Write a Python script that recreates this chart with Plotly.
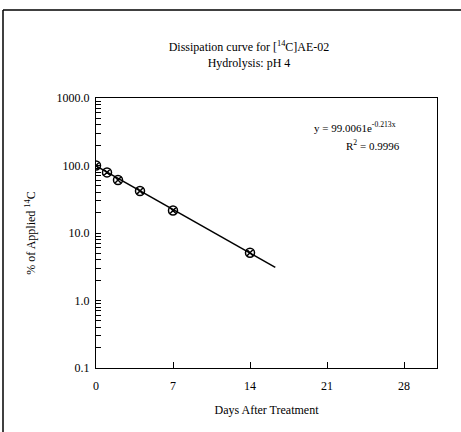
import plotly.graph_objects as go

# Data
days = [0, 1, 2, 4, 7, 14]
pct_applied = [100.0, 79.0, 61.0, 42.0, 21.5, 5.1]

# Trend line endpoints (exponential fit, straight on log axis)
trend_days = [0, 16.3]
trend_pct = [99.0, 3.1]

x_ticks = [0, 7, 14, 21, 28]
decades = [0.1, 1, 10, 100]
decade_labels = ["0.1", "1.0", "10.0", "100.0"]
minor_multipliers = [2, 3, 4, 5, 6, 7, 8, 9]

W, H = 461, 432
L, R, T, B = 96, 24, 98, 64
font_family = "Liberation Serif"

y_tickvals, y_ticktext = [], []
for d, lab in zip(decades, decade_labels):
    y_tickvals.append(d)
    y_ticktext.append(lab)
    for m in minor_multipliers:
        y_tickvals.append(d * m)
        y_ticktext.append("")
y_tickvals.append(1000)
y_ticktext.append("1000.0")

fig = go.Figure()
fig.add_trace(go.Scatter(x=trend_days, y=trend_pct, mode="lines",
                         line=dict(color="black", width=1.5), showlegend=False))
fig.add_trace(go.Scatter(x=days, y=pct_applied, mode="markers",
                         marker=dict(symbol="circle-x-open", size=9, color="black",
                                     line=dict(width=1.5, color="black")),
                         showlegend=False))

pw, ph = W - L - R, H - T - B
def px(x):
    return (x - L) / pw
def py(y):
    return (H - B - y) / ph

fig.update_layout(
    width=W, height=H,
    margin=dict(l=L, r=R, t=T, b=B),
    paper_bgcolor="white", plot_bgcolor="white",
    font=dict(family=font_family, color="black", size=12),
    title=dict(text="Dissipation curve for [<sup>14</sup>C]AE-02<br>Hydrolysis: pH 4",
               x=249 / W, xanchor="center", y=1 - 51 / H, yanchor="top",
               font=dict(size=12, family=font_family)),
    xaxis=dict(range=[0, 31], tickmode="array", tickvals=x_ticks,
               ticks="inside", ticklen=6, tickwidth=1.3, tickcolor="black",
               ticklabelstandoff=6,
               showline=True, linecolor="black", linewidth=1.3, mirror=True,
               showgrid=False, zeroline=False,
               title=dict(text="Days After Treatment", standoff=14,
                          font=dict(size=12, family=font_family)),
               tickfont=dict(size=12)),
    yaxis=dict(type="log", range=[-1, 3], tickmode="array",
               tickvals=y_tickvals, ticktext=y_ticktext,
               ticks="inside", ticklen=5, tickwidth=1.2, tickcolor="black",
               ticklabelstandoff=3,
               showline=True, linecolor="black", linewidth=1.3, mirror=True,
               showgrid=False, zeroline=False,
               title=dict(text="% of Applied <sup>14</sup>C", standoff=18,
                          font=dict(size=12, family=font_family)),
               tickfont=dict(size=12)),
    annotations=[
        dict(text="y = 99.0061e<sup>-0.213x</sup>", xref="paper", yref="paper",
             x=px(355), y=py(127), xanchor="center", yanchor="middle",
             showarrow=False, font=dict(size=11, family=font_family)),
        dict(text="R<sup>2</sup> = 0.9996", xref="paper", yref="paper",
             x=px(373), y=py(145), xanchor="center", yanchor="middle",
             showarrow=False, font=dict(size=11, family=font_family)),
    ],
    shapes=[
        dict(type="line", xref="paper", yref="paper", x0=px(3), x1=px(461),
             y0=py(10), y1=py(10), line=dict(color="black", width=1.5)),
        dict(type="line", xref="paper", yref="paper", x0=px(3), x1=px(3),
             y0=py(10), y1=py(432), line=dict(color="black", width=1.5)),
    ],
)

fig.write_html("out.html")
